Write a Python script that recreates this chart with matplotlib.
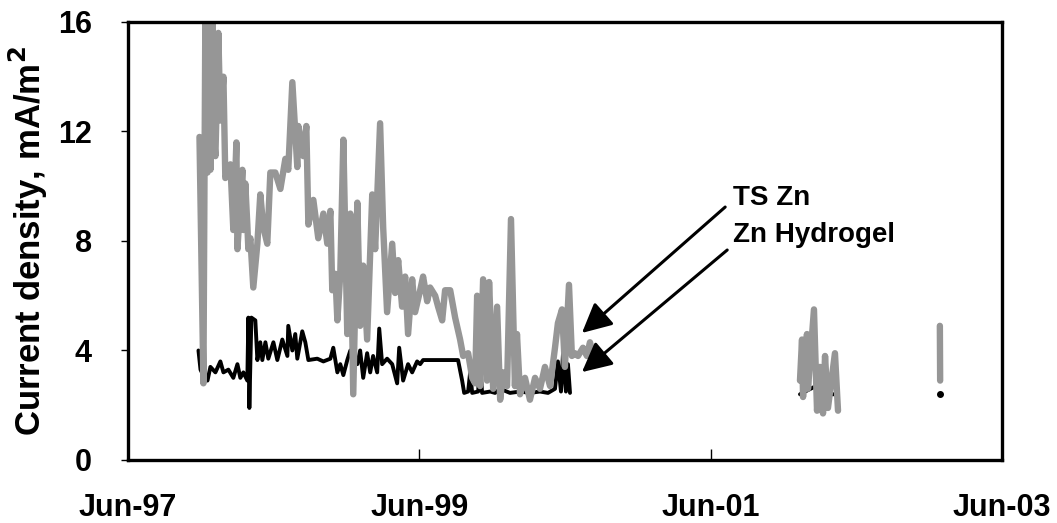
import numpy as np
import matplotlib
matplotlib.use("Agg")
import matplotlib.pyplot as plt
import matplotlib.dates as mdates
from datetime import datetime, timedelta

plt.rcParams['font.family'] = ['Liberation Sans', 'DejaVu Sans']
plt.rcParams['font.weight'] = 'bold'

nan = np.nan

# TS Zn current density (decimal year, mA/m2), gaps as nan
ts_zn_year = [1997.904, 1997.931, 1997.945, 1997.959, 1997.973, 1997.979, 1997.993, 1998.000,
              1998.014, 1998.034, 1998.048, 1998.069, 1998.082, 1998.117, 1998.137, 1998.158,
              1998.165, 1998.199, 1998.206, 1998.219, 1998.233, 1998.240, 1998.254, 1998.274,
              1998.302, 1998.322, 1998.343, 1998.370, 1998.391, 1998.425, 1998.460, 1998.494,
              1998.514, 1998.542, 1998.576, 1998.583, 1998.617, 1998.638, 1998.652, 1998.686,
              1998.720, 1998.755, 1998.782, 1998.803, 1998.816, 1998.837, 1998.851, 1998.871,
              1998.892, 1998.919, 1998.940, 1998.960, 1998.988, 1999.008, 1999.029, 1999.056,
              1999.091, 1999.111, 1999.145, 1999.166, 1999.193, 1999.228, 1999.248, 1999.269,
              1999.296, 1999.317, 1999.337, 1999.365, 1999.385, 1999.420, 1999.440, 1999.468,
              1999.488, 1999.523, 1999.543, 1999.571, 1999.591, 1999.626, 1999.660, 1999.694,
              1999.715, 1999.749, 1999.777, 1999.797, 1999.811, 1999.831, 1999.852, 1999.879,
              1999.893, 1999.921, 1999.948, 1999.969, 1999.989, 2000.017, 2000.044, 2000.071,
              2000.085, 2000.106, 2000.140, 2000.174, 2000.209, 2000.243, 2000.277, 2000.312,
              2000.346, 2000.366, 2000.394, 2000.414, 2000.442, 2000.462, 2000.483, 2000.504,
              2000.538, 2000.565, 2000.586, 2000.613, 2000.641,
              2001.000,
              2002.026, 2002.040, 2002.047, 2002.074, 2002.081, 2002.122, 2002.143, 2002.163,
              2002.184, 2002.198, 2002.218, 2002.266, 2002.287,
              2002.600,
              2002.986, 2002.988]
ts_zn_val = [11.8, 2.8, 17.0, 10.5, 17.0, 10.6, 17.0, 12.0,
             11.1, 15.6, 12.4, 14.0, 10.3, 10.8, 8.4, 11.6,
             7.7, 10.6, 8.4, 10.1, 8.6, 7.7, 8.1, 6.3,
             7.9, 9.7, 8.5, 7.9, 10.5, 10.5, 9.9, 11.0,
             10.6, 13.8, 10.7, 12.2, 11.1, 12.2, 8.6, 9.5,
             8.1, 9.0, 7.9, 9.1, 6.2, 6.8, 5.1, 6.8,
             11.7, 4.6, 9.0, 2.4, 9.4, 4.9, 7.1, 4.4,
             9.7, 7.7, 12.3, 8.5, 5.4, 7.9, 6.1, 7.3,
             5.6, 6.7, 4.6, 6.6, 5.4, 6.2, 6.7, 5.8,
             6.3, 6.0, 5.6, 5.1, 6.2, 6.2, 5.2, 4.4,
             3.8, 3.9, 3.0, 2.8, 6.0, 2.7, 6.6, 2.9,
             6.5, 2.6, 5.6, 2.2, 3.2, 2.7, 8.8, 2.7,
             4.6, 2.4, 3.0, 2.2, 3.0, 2.6, 3.4, 2.7,
             4.1, 5.0, 5.5, 3.4, 6.4, 3.8, 3.9, 3.8,
             4.1, 3.8, 4.3, 3.7, 3.9,
             nan,
             2.9, 4.4, 2.3, 4.6, 2.6, 5.5, 1.8, 3.4,
             1.7, 3.8, 1.9, 3.9, 1.8,
             nan,
             4.9, 2.9]

# Zn hydrogel current density
hydrogel_year = [1997.897, 1997.911, 1997.938, 1997.959, 1997.979, 1998.014, 1998.048, 1998.069,
                 1998.103, 1998.137, 1998.165, 1998.185, 1998.206, 1998.233, 1998.240, 1998.247,
                 1998.261, 1998.288, 1998.302, 1998.322, 1998.336, 1998.357, 1998.377, 1998.412,
                 1998.439, 1998.473, 1998.508, 1998.514, 1998.542, 1998.562, 1998.576, 1998.610,
                 1998.631, 1998.652, 1998.713, 1998.755, 1998.803, 1998.823, 1998.851, 1998.871,
                 1998.892, 1998.919, 1998.940, 1998.988, 1999.008, 1999.029, 1999.056, 1999.077,
                 1999.097, 1999.125, 1999.139, 1999.159, 1999.193, 1999.228, 1999.262, 1999.276,
                 1999.303, 1999.337, 1999.365, 1999.399, 1999.420, 1999.440, 1999.680, 1999.708,
                 1999.722, 1999.749, 1999.763, 1999.777, 1999.818, 1999.831, 1999.845, 1999.900,
                 1999.934, 1999.969, 2000.037, 2000.106, 2000.174, 2000.243, 2000.298, 2000.346,
                 2000.366, 2000.387, 2000.401, 2000.421, 2000.435, 2000.449,
                 2001.000,
                 2002.026, 2002.061, 2002.211, 2002.232, 2002.287,
                 2002.600,
                 2002.986]
hydrogel_val = [4.0, 3.3, 3.0, 2.9, 3.4, 3.2, 3.6, 3.2,
                3.3, 3.0, 3.5, 3.0, 3.2, 2.9, 5.2, 1.9,
                5.2, 5.1, 3.65, 4.3, 3.65, 4.3, 3.7, 4.3,
                3.65, 4.4, 3.8, 4.9, 4.0, 4.6, 3.7, 4.7,
                4.3, 3.65, 3.7, 3.6, 3.7, 4.1, 3.2, 3.5,
                3.1, 3.65, 4.0, 3.5, 4.0, 3.0, 3.9, 3.2,
                3.8, 3.2, 4.8, 3.5, 3.7, 3.5, 2.8, 4.1,
                2.9, 3.5, 3.2, 3.6, 3.5, 3.65, 3.65, 2.9,
                2.45, 2.5, 3.2, 2.45, 2.5, 3.6, 2.45, 2.5,
                2.45, 2.6, 2.45, 2.5, 2.45, 2.5, 2.45, 2.6,
                3.6, 2.5, 3.9, 2.5, 3.5, 2.45,
                nan,
                2.4, 2.5, 2.9, 2.4, 2.4,
                nan,
                2.4]


def year_to_date(y):
    if np.isnan(y):
        return datetime(2001, 1, 1)
    yr = int(y)
    return datetime(yr, 1, 1) + timedelta(days=(y - yr) * 365.25)


ts_dates = [year_to_date(y) for y in ts_zn_year]
hyd_dates = [year_to_date(y) for y in hydrogel_year]

fig = plt.figure(figsize=(10.57, 5.23), dpi=100)
ax = fig.add_axes([0.1211, 0.1205, 0.8269, 0.8375])

ax.plot(hyd_dates, hydrogel_val, color='black', lw=2.8,
        solid_joinstyle='round', solid_capstyle='round')
ax.plot(hyd_dates[-1:], hydrogel_val[-1:], 'o', color='black', ms=4)
ax.plot(ts_dates, ts_zn_val, color='#969696', lw=4.6,
        solid_joinstyle='round', solid_capstyle='round')

ax.set_xlim(datetime(1997, 6, 1), datetime(2003, 6, 1))
ax.set_ylim(0, 16)
ax.set_yticks([0, 4, 8, 12, 16])
ax.set_xticks([datetime(1997, 6, 1), datetime(1999, 6, 1),
               datetime(2001, 6, 1), datetime(2003, 6, 1)])
ax.xaxis.set_major_formatter(mdates.DateFormatter('%b-%y'))

for s in ax.spines.values():
    s.set_linewidth(2.4)
ax.tick_params(axis='y', direction='out', length=5, width=1, labelsize=22, pad=21)
ax.tick_params(axis='x', direction='in', length=8, width=1, labelsize=22, pad=24)

ax.set_ylabel('Current density, mA/m$^\\mathbf{2}$', fontsize=25, fontweight='bold',
              labelpad=6)

# annotation arrows pointing at the two series
arrow = dict(arrowstyle='-|>,head_length=0.9,head_width=0.45', color='black',
             lw=2.2, mutation_scale=20, shrinkA=0, shrinkB=0)
ax.annotate('', xy=(year_to_date(2000.531), 4.64), xytext=(year_to_date(2001.512), 9.24),
            arrowprops=arrow)
ax.annotate('', xy=(year_to_date(2000.531), 3.21), xytext=(year_to_date(2001.526), 7.67),
            arrowprops=arrow)
ax.text(year_to_date(2001.567), 9.57, 'TS Zn', fontsize=20, fontweight='bold',
        va='center', ha='left')
ax.text(year_to_date(2001.567), 8.22, 'Zn Hydrogel', fontsize=20, fontweight='bold',
        va='center', ha='left')

fig.savefig('out.png', dpi=100)
